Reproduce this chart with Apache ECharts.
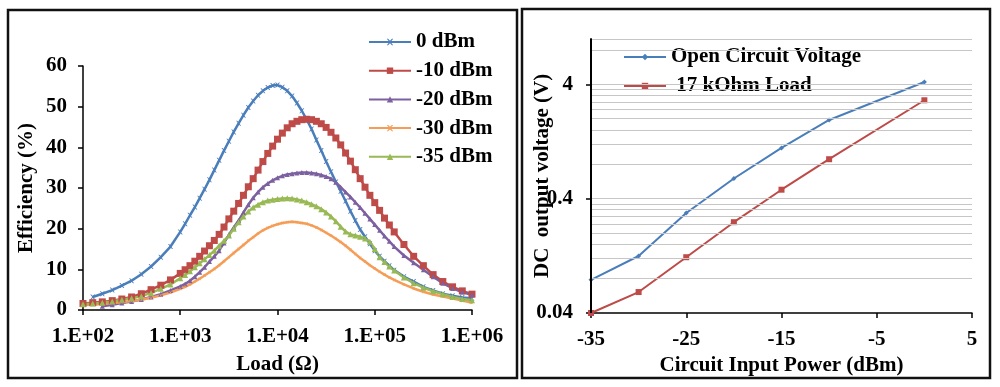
<!DOCTYPE html>
<html><head><meta charset="utf-8">
<script src="https://cdn.jsdelivr.net/npm/echarts@6/dist/echarts.min.js"></script>
<style>html,body{margin:0;padding:0;background:#fff}#c{width:1000px;height:387px}</style>
</head><body><div id="c"></div><script>
// ---------- Left chart data: Efficiency (%) vs Load (Ω) ----------
const loadOhm = [100,126,158,200,251,316,398,501,631,794,1000,
  1122,1259,1413,1585,1778,1995,2239,2512,2818,3162,
  3548,3981,4467,5012,5623,6310,7079,7943,8913,10000,
  11220,12589,14125,15849,17783,19953,22387,25119,28184,31623,
  35481,39811,44668,50119,56234,63096,70795,79433,89125,100000,
  112202,125893,141254,158489,
  199526,251189,316228,398107,501187,630957,794328,1000000];
const eff0dBm = [null,3.2,4.0,4.9,6.0,7.2,8.8,10.7,13.0,15.6,19.2,
  21.2,23.3,25.3,27.5,29.7,32.0,34.4,36.8,39.2,41.5,
  43.8,45.9,47.9,49.8,51.4,52.8,53.9,54.7,55.2,55.3,
  54.8,53.9,52.6,50.9,49.0,46.8,44.5,41.8,39.2,36.5,
  34.0,31.5,29.2,26.8,24.3,22.0,19.8,18.0,16.3,14.6,
  13.2,12.0,10.9,9.8,
  8.2,7.0,5.7,4.8,4.0,3.5,3.1,2.9];
const effM10dBm = [1.6,1.8,2.0,2.3,2.7,3.2,4.0,5.0,6.1,7.4,9.0,
  9.9,10.9,12.0,13.2,14.5,15.8,17.1,18.6,20.4,22.4,
  24.3,26.2,28.2,30.3,32.3,34.4,36.5,38.5,40.3,42.0,
  43.5,44.8,45.8,46.4,46.8,46.9,46.8,46.4,45.8,44.9,
  43.7,42.3,40.6,38.6,36.6,34.5,32.3,30.2,28.2,26.4,
  24.5,22.6,20.9,19.2,
  16.1,13.2,10.9,8.7,7.0,5.7,4.7,3.9];
const effM20dBm = [null,null,0.9,1.3,1.7,2.1,2.6,3.2,3.9,4.8,5.8,
  6.4,7.2,8.2,9.3,10.5,11.9,13.2,14.6,16.5,18.5,
  20.3,22.0,24.0,25.9,27.6,29.0,30.2,31.1,31.9,32.5,
  33.0,33.3,33.5,33.7,33.8,33.8,33.7,33.5,33.2,32.8,
  32.3,31.4,30.2,29.0,27.8,26.5,25.2,23.8,22.4,21.0,
  19.6,18.2,16.9,15.6,
  13.4,11.6,9.9,8.2,6.6,5.3,4.4,3.7];
const effM30dBm = [1.2,1.3,1.5,1.7,1.9,2.2,2.5,3.0,3.6,4.3,5.2,
  5.7,6.3,7.0,7.7,8.5,9.3,10.1,11.0,12.0,13.0,
  14.0,15.0,16.0,17.0,17.9,18.8,19.6,20.2,20.7,21.1,
  21.4,21.6,21.7,21.6,21.4,21.2,20.8,20.3,19.7,19.0,
  18.3,17.5,16.7,15.8,14.8,13.8,12.8,11.9,11.0,10.2,
  9.4,8.7,8.0,7.4,
  6.3,5.3,4.5,3.8,3.3,2.8,2.3,1.8];
const effM35dBm = [1.4,1.6,1.8,2.1,2.5,2.9,3.4,4.2,5.2,6.3,7.8,
  8.6,9.5,10.5,11.5,12.5,13.5,14.6,15.8,17.0,18.3,
  20.0,21.6,23.0,24.2,25.2,25.9,26.5,26.9,27.1,27.3,
  27.4,27.5,27.4,27.2,26.9,26.5,26.0,25.5,24.8,24.0,
  23.0,21.8,20.5,19.3,18.6,18.3,18.0,17.6,16.8,15.0,
  13.0,11.8,10.7,9.7,
  8.0,6.6,5.5,4.6,3.9,3.2,2.7,2.4];
const leftNames = ['0 dBm','-10 dBm','-20 dBm','-30 dBm','-35 dBm'];
const loadTicks = [100,1000,10000,100000,1000000];
const loadTickLabels = ['1.E+02','1.E+03','1.E+04','1.E+05','1.E+06'];

// ---------- Right chart data: DC output voltage (V) vs input power ----------
const powerDbm = [-35,-30,-25,-20,-15,-10,0];
const openCircuitV = [0.078,0.126,0.30,0.60,1.11,1.95,4.19];
const load17kV = [0.040,0.061,0.123,0.249,0.479,0.885,2.9];
const rightNames = ['Open Circuit Voltage',' 17 kOhm Load'];
const powerRange = [-35,5];
const powerTicks = [-35,-25,-15,-5,5];
const voltRange = [0.04,10];
const voltTicks = [0.04,0.4,4];
const voltTickLabels = ['0.04','0.4','4'];
const voltGrid = [0.08,0.12,0.16,0.2,0.24,0.28,0.32,0.36,0.4,0.8,1.2,1.6,2,2.4,2.8,3.2,3.6,4,8,10];

// ---------- layout & styling ----------
const leftGrid = {left: 83, top: 66, width: 389, height: 244};
const rightGrid = {left: 591, top: 38.8, width: 381, height: 274.2};
const FONT = '"Liberation Serif","Times New Roman",serif';
const txt = (size) => ({fontFamily: FONT, fontWeight: 'bold', fontSize: size, color: '#000'});
const axLine = () => ({show: true, onZero: false, lineStyle: {color: '#000', width: 1.5}});
const tick = (vals) => { const t = {show: true, length: 5, lineStyle: {color: '#000', width: 1.5}}; if (vals) t.customValues = vals; return t; };
const starX = 'path://M0,0 L2,0 L5,3 L8,0 L10,0 L6,5 L10,10 L8,10 L5,7 L2,10 L0,10 L4,5 Z';
const pair = (xs, ys) => xs.map((x, i) => [x, ys[i]]).filter(p => p[1] != null);

const leftSpecs = [
  {name: leftNames[0], y: eff0dBm, color: '#4A7EBB', symbol: starX, size: 5},
  {name: leftNames[1], y: effM10dBm, color: '#BE4B48', symbol: 'rect', size: 7},
  {name: leftNames[2], y: effM20dBm, color: '#7D60A0', symbol: 'triangle', size: 5},
  {name: leftNames[3], y: effM30dBm, color: '#F59D56', symbol: starX, size: 3},
  {name: leftNames[4], y: effM35dBm, color: '#98B954', symbol: 'triangle', size: 6}
];

const series = leftSpecs.map(s => ({
  type: 'line', name: s.name, xAxisIndex: 0, yAxisIndex: 0,
  data: pair(loadOhm, s.y), symbol: s.symbol, symbolSize: s.size,
  itemStyle: {color: s.color}, lineStyle: {color: s.color, width: 2.5},
  emphasis: {disabled: true}, z: 3
}));

// horizontal log-grid lines of the right chart (behind the data)
series.push({
  type: 'line', name: 'grid', xAxisIndex: 1, yAxisIndex: 1, data: [], silent: true, z: 1,
  markLine: {silent: true, symbol: 'none', animation: false, label: {show: false},
    lineStyle: {color: '#c6c6c6', width: 1, type: 'solid'},
    emphasis: {disabled: true},
    data: voltGrid.map(v => ({yAxis: v}))}
});
series.push({
  type: 'line', name: rightNames[0], xAxisIndex: 1, yAxisIndex: 1,
  data: pair(powerDbm, openCircuitV), symbol: 'diamond', symbolSize: 5,
  itemStyle: {color: '#4A7EBB'}, lineStyle: {color: '#4A7EBB', width: 2}, emphasis: {disabled: true}, z: 3
});
series.push({
  type: 'line', name: rightNames[1], xAxisIndex: 1, yAxisIndex: 1,
  data: pair(powerDbm, load17kV), symbol: 'rect', symbolSize: 6,
  itemStyle: {color: '#BE4B48'}, lineStyle: {color: '#BE4B48', width: 2}, emphasis: {disabled: true}, z: 3
});

const frames = [
  {type: 'rect', silent: true, z: 100, shape: {x: 8, y: 10, width: 509, height: 368}, style: {fill: 'none', stroke: '#111', lineWidth: 2.5}},
  {type: 'rect', silent: true, z: 100, shape: {x: 522, y: 9, width: 468, height: 369}, style: {fill: 'none', stroke: '#111', lineWidth: 2.5}},
  // vertical axis line along the left edge of the right plot area
  {type: 'rect', silent: true, z: 90,
   shape: {x: rightGrid.left - 1, y: rightGrid.top, width: 2, height: rightGrid.height},
   style: {fill: '#000', stroke: null}}
];

const option = {
  animation: false,
  backgroundColor: '#fff',
  grid: [leftGrid, rightGrid],
  xAxis: [
    {type: 'log', logBase: 10, gridIndex: 0, min: 100, max: 1000000, position: 'bottom',
     axisLine: axLine(), axisTick: tick(loadTicks), splitLine: {show: false}, minorTick: {show: false},
     axisLabel: Object.assign(txt(21), {customValues: loadTicks, margin: 16,
       formatter: v => { const i = loadTicks.findIndex(t => Math.abs(t - v) / t < 1e-6); return i >= 0 ? loadTickLabels[i] : ''; }}),
     name: 'Load (Ω)', nameLocation: 'middle', nameGap: 44, nameMoveOverlap: false, nameTextStyle: txt(21)},
    {type: 'value', gridIndex: 1, min: powerRange[0], max: powerRange[1], position: 'bottom',
     axisLine: axLine(), axisTick: tick(powerTicks), splitLine: {show: false},
     axisLabel: Object.assign(txt(21), {customValues: powerTicks, margin: 16}),
     name: 'Circuit Input Power (dBm)', nameLocation: 'middle', nameGap: 42, nameMoveOverlap: false, nameTextStyle: txt(21)}
  ],
  yAxis: [
    {type: 'value', gridIndex: 0, min: 0, max: 60, interval: 10, position: 'left',
     axisLine: axLine(), axisTick: tick(), splitLine: {show: false},
     axisLabel: Object.assign(txt(21), {margin: 16}),
     name: 'Efficiency (%)', nameLocation: 'middle', nameGap: 46, nameRotate: 90, nameMoveOverlap: false, nameTextStyle: txt(21)},
    {type: 'log', logBase: 10, gridIndex: 1, min: voltRange[0], max: voltRange[1], position: 'left',
     axisLine: axLine(), axisTick: tick(voltTicks), splitLine: {show: false}, minorTick: {show: false},
     axisLabel: Object.assign(txt(21), {customValues: voltTicks, margin: 18,
       formatter: v => { const i = voltTicks.findIndex(t => Math.abs(t - v) / t < 1e-6); return i >= 0 ? voltTickLabels[i] : ''; }}),
     name: 'DC  output voltage (V)', nameLocation: 'middle', nameGap: 38, nameRotate: 90, nameMoveOverlap: false, nameTextStyle: txt(21)}
  ],
  legend: [
    {data: leftNames, orient: 'vertical', left: 368, top: 31, padding: 0, itemWidth: 42, itemHeight: 8, itemGap: 6.7,
     textStyle: Object.assign(txt(21), {lineHeight: 22}), selectedMode: false},
    {data: rightNames, orient: 'vertical', left: 623, top: 46, padding: 0, itemWidth: 42, itemHeight: 8, itemGap: 7,
     textStyle: Object.assign(txt(21), {lineHeight: 22}), selectedMode: false}
  ],
  graphic: frames,
  series: series
};
const chart = echarts.init(document.getElementById('c'), null, {renderer: 'canvas'});
chart.setOption(option);
</script></body></html>
